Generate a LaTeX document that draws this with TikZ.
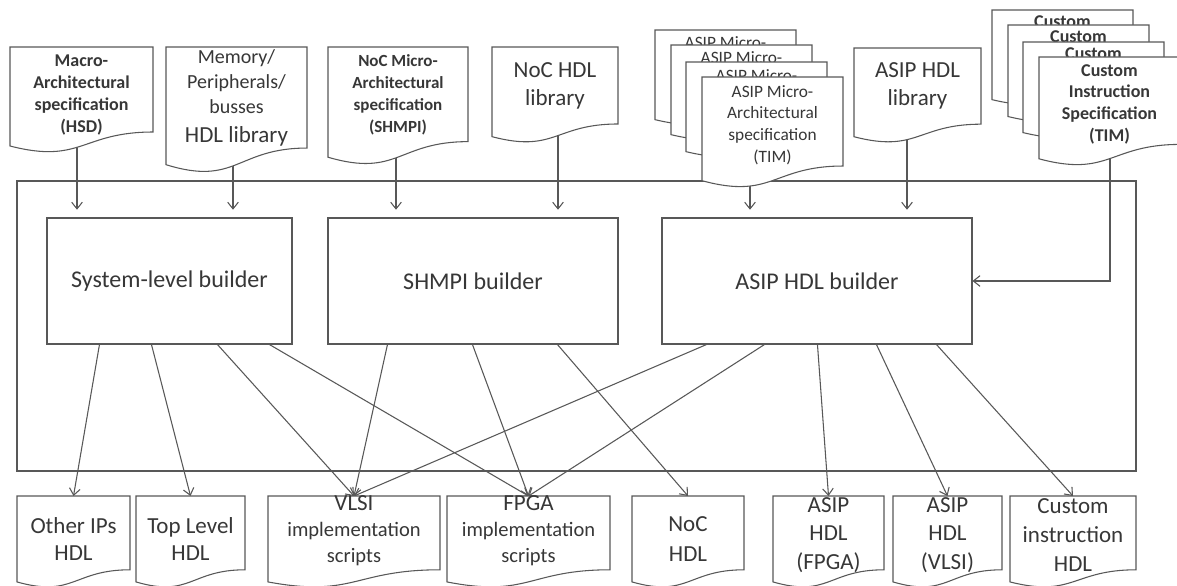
\documentclass[tikz,border=0pt]{standalone}
\usepackage{fontspec}
\setmainfont{Carlito}
\usetikzlibrary{arrows.meta}
\definecolor{lncol}{RGB}{88,88,88}
\definecolor{txcol}{RGB}{55,55,55}
\pgfdeclarelayer{bg}
\pgfdeclarelayer{paper}
\pgfsetlayers{paper,bg,main}
% document shape: name, x, y, w, h  (px units)
\newcommand\docshape[5]{%
  \filldraw[docst] (#2,#3) -- (#2+#4,#3) -- (#2+#4,#3+0.802*#5)
    .. controls (#2+0.5*#4,#3+0.802*#5) and (#2+0.5*#4,#3+1.1075*#5) .. (#2,#3+0.934*#5) -- cycle;
  \coordinate (#1) at (#2+0.5*#4,#3);}
\tikzset{
  docst/.style={draw=lncol, line width=0.8pt, fill=white},
  arr/.style={draw=lncol, line width=0.8pt, -{Straight Barb[length=5pt,width=8pt]}},
  builder/.style={draw=lncol, line width=0.8pt, minimum height=94.5pt, inner sep=0pt,
     font=\fontsize{18}{22}\selectfont, text=txcol},
  lbl/.style={inner sep=0pt, align=center, text=txcol},
  backlbl/.style={inner sep=0pt, text=txcol, anchor=base, text height=3pt, text depth=0pt},
}
\begin{document}
\begin{tikzpicture}[x=0.75pt,y=-0.75pt]
\useasboundingbox (0,0) rectangle (1177,585);
\begin{pgfonlayer}{paper}
\fill[white] (0,0) rectangle (1177,585);
\end{pgfonlayer}

% outer frame
\draw[draw=lncol, line width=0.8pt] (17,181) rectangle (1136,471);

% builders
\node[builder, minimum width=183.75pt] (sys) at (169.5,281) {System-level builder};
\node[builder, minimum width=217.5pt] (shmpi) at (473,281) {SHMPI builder};
\node[builder, minimum width=232.5pt] (asip) at (817,281) {ASIP HDL builder};

% ---------- top input documents ----------
\docshape{macro}{10}{47}{143}{106}
\node[lbl, font=\bfseries\fontsize{13.5}{16.5}\selectfont] (macrot) at (81.5,95)
  {Macro-\\Architectural\\specification\\(HSD)};

\docshape{mem}{166}{47}{141}{126}
\node[lbl, font=\fontsize{15}{18.8}\selectfont] (memt) at (236.5,98)
  {Memory/\\Peripherals/\\busses\\[2.5pt]{\fontsize{17.25}{18.8}\selectfont HDL library}};

\docshape{nocm}{328}{47}{140}{118}
\node[lbl, font=\bfseries\fontsize{12.75}{16.5}\selectfont] (nocmt) at (398,95)
  {NoC Micro-\\Architectural\\specification\\(SHMPI)};

\docshape{nochdl}{492}{47}{126}{96}
\node[lbl, font=\fontsize{17.25}{21}\selectfont] (nochdlt) at (555,86) {NoC HDL\\library};

\docshape{asipmA}{655}{30}{141}{96}
\node[backlbl, font=\fontsize{13}{16}\selectfont] (asipmAt) at (725.5,49) {ASIP Micro-};
\docshape{asipmB}{671}{45}{141}{96}
\node[backlbl, font=\fontsize{13}{16}\selectfont] (asipmBt) at (741.5,64) {ASIP Micro-};
\docshape{asipmC}{686}{62}{141}{96}
\node[backlbl, font=\fontsize{13}{16}\selectfont] (asipmCt) at (756.5,81) {ASIP Micro-};
\docshape{asipmD}{702}{77}{141}{111}
\node[lbl, font=\fontsize{13}{16.25}\selectfont] (asipmDt) at (772.5,125)
  {ASIP Micro-\\Architectural\\specification\\(TIM)};

\docshape{asiphdl}{854}{48}{127}{95}
\node[lbl, font=\fontsize{17.25}{21}\selectfont] (asiphdlt) at (917.5,86) {ASIP HDL\\library};

\docshape{custA}{992}{10}{141}{96}
\node[backlbl, font=\bfseries\fontsize{13.5}{16.25}\selectfont] (custAt) at (1062.5,27.5) {Custom};
\docshape{custB}{1008}{25}{141}{98}
\node[backlbl, font=\bfseries\fontsize{13.5}{16.25}\selectfont] (custBt) at (1078.5,43) {Custom};
\docshape{custC}{1023}{42}{141}{97}
\node[backlbl, font=\bfseries\fontsize{13.5}{16.25}\selectfont] (custCt) at (1093.5,59.5) {Custom};
\docshape{custD}{1039}{57}{141}{109}
\node[lbl, font=\bfseries\fontsize{13.5}{16.25}\selectfont] (custDt) at (1109.5,104)
  {Custom\\Instruction\\Specification\\(TIM)};

% ---------- bottom output documents ----------
\docshape{other}{17}{496}{113}{92}
\node[lbl, font=\fontsize{17.25}{20}\selectfont] (othert) at (73.5,539) {Other IPs\\HDL};
\docshape{toplv}{136}{496}{109}{92}
\node[lbl, font=\fontsize{17.25}{20}\selectfont] (toplvt) at (190.5,539) {Top Level\\HDL};
\docshape{vlsi}{268}{496}{172}{92}
\node[lbl, font=\fontsize{15.4}{19.5}\selectfont] (vlsit) at (354,531)
  {{\fontsize{17.25}{19.5}\selectfont VLSI}\\implementation\\scripts};
\docshape{fpga}{447}{496}{163}{92}
\node[lbl, font=\fontsize{15.4}{19.5}\selectfont] (fpgat) at (528.5,531)
  {{\fontsize{17.25}{19.5}\selectfont FPGA}\\implementation\\scripts};
\docshape{noc}{632}{496}{112}{92}
\node[lbl, font=\fontsize{17.25}{22}\selectfont] (noct) at (688,539) {NoC\\HDL};
\docshape{asipf}{773}{496}{111}{92}
\node[lbl, font=\fontsize{17.25}{21.5}\selectfont] (asipft) at (828.5,535) {ASIP\\HDL\\(FPGA)};
\docshape{asipv}{893}{496}{109}{92}
\node[lbl, font=\fontsize{17.25}{21.5}\selectfont] (asipvt) at (947.5,535) {ASIP\\HDL\\(VLSI)};
\docshape{custo}{1010}{496}{126}{92}
\node[lbl, font=\fontsize{17.25}{21.5}\selectfont] (custot) at (1073,535) {Custom\\instruction\\HDL};

% ---------- connectors (behind the documents) ----------
\begin{pgfonlayer}{bg}
  \coordinate (macroO) at (77,110);
  \coordinate (memO) at (233,110);
  \coordinate (nocmO) at (396,110);
  \coordinate (nochdlO) at (558,110);
  \coordinate (asipmO) at (750,140);
  \coordinate (asiphdlO) at (907,110);
  \coordinate (custO) at (1110,120);
  \draw[arr, shorten >=5.8pt] (macroO) -- (macroO |- sys.north);
  \draw[arr, shorten >=5.8pt] (memO) -- (memO |- sys.north);
  \draw[arr, shorten >=5.8pt] (nocmO) -- (nocmO |- shmpi.north);
  \draw[arr, shorten >=5.8pt] (nochdlO) -- (nochdlO |- shmpi.north);
  \draw[arr, shorten >=5.8pt] (asipmO) -- (asipmO |- asip.north);
  \draw[arr, shorten >=5.8pt] (asiphdlO) -- (asiphdlO |- asip.north);
  \draw[arr] (custO) |- (asip.east);

  % outputs
  \draw[arr] ([shift={(53,0)}]sys.south west) -- (other);
  \draw[arr] ([shift={(105,0)}]sys.south west) -- (toplv);
  \draw[arr] ([shift={(171,0)}]sys.south west) -- (vlsi);
  \draw[arr] ([shift={(223,0)}]sys.south west) -- (fpga);
  \draw[arr] ([shift={(60,0)}]shmpi.south west) -- (vlsi);
  \draw[arr] ([shift={(145,0)}]shmpi.south west) -- (fpga);
  \draw[arr] ([shift={(230,0)}]shmpi.south west) -- (noc);
  \draw[arr] ([shift={(45,0)}]asip.south west) -- (vlsi);
  \draw[arr] ([shift={(103,0)}]asip.south west) -- (fpga);
  \draw[arr] ([shift={(156,0)}]asip.south west) -- (asipf);
  \draw[arr] ([shift={(215,0)}]asip.south west) -- (asipv);
  \draw[arr] ([shift={(275,0)}]asip.south west) -- (custo);
\end{pgfonlayer}
\end{tikzpicture}
\end{document}
